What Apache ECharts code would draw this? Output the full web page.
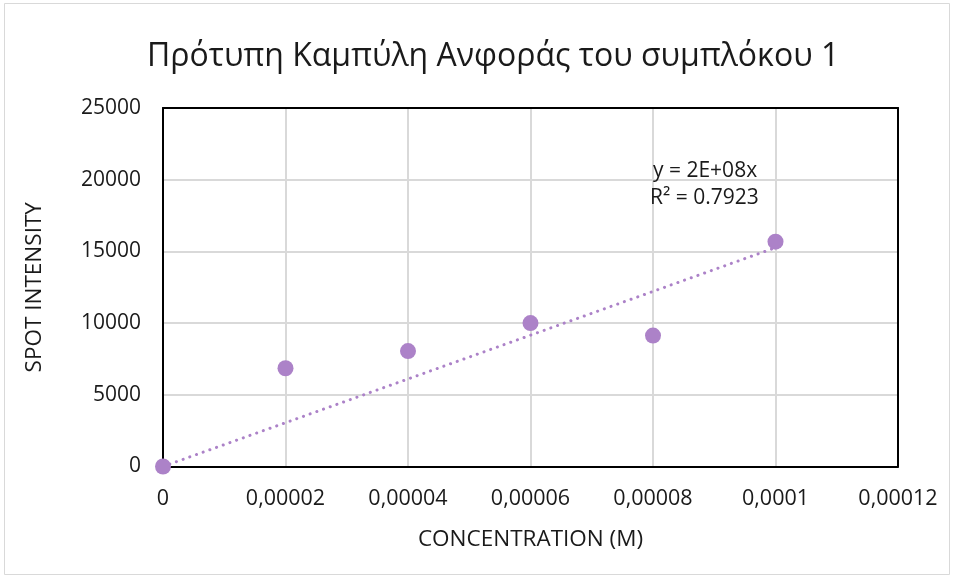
<!DOCTYPE html>
<html><head><meta charset="utf-8">
<script src="https://cdn.jsdelivr.net/npm/echarts@6/dist/echarts.min.js"></script>
<style>html,body{margin:0;padding:0;background:#fff}#c{width:954px;height:579px}</style>
</head><body><div id="c"></div>
<script>
const concentration = [0, 0.00002, 0.00004, 0.00006, 0.00008, 0.0001];
const intensity = [0, 6850, 8050, 10000, 9130, 15680];
const xTickLabels = ['0', '0,00002', '0,00004', '0,00006', '0,00008', '0,0001', '0,00012'];
const yTicks = [0, 5000, 10000, 15000, 20000, 25000];
const titleText = 'Πρότυπη Καμπύλη Ανφοράς του συμπλόκου 1';
const equationText = 'y = 2E+08x';
const r2Text = 'R² = 0.7923';

// Linear trendline forced through the origin (least squares)
let sxy = 0, sxx = 0;
concentration.forEach((x, i) => { sxy += x * intensity[i]; sxx += x * x; });
const slope = sxy / sxx;
const xEnd = concentration[concentration.length - 1];
const trend = [[0, 0], [xEnd, slope * xEnd]];

const color = '#AC82C8';
const font = 'Open Sans';
const txt = '#1a1a1a';
const frameAxisX = {type: 'value', min: 0, max: 0.00012, interval: 0.00002, position: 'top',
  axisLine: {show: true, onZero: false, lineStyle: {color: '#000', width: 2}}, axisTick: {show: false},
  axisLabel: {show: false}, splitLine: {show: false}};
const frameAxisY = {type: 'value', min: 0, max: 25000, interval: 5000, position: 'right',
  axisLine: {show: true, onZero: false, lineStyle: {color: '#000', width: 2}}, axisTick: {show: false},
  axisLabel: {show: false}, splitLine: {show: false}};

const chart = echarts.init(document.getElementById('c'), null, {renderer: 'canvas'});
chart.setOption({
  backgroundColor: '#fff',
  animation: false,
  title: {
    text: titleText, left: 142, top: 36,
    textStyle: {fontFamily: font, fontSize: 32, fontWeight: 'normal', color: txt}
  },
  grid: {left: 163, right: 56, top: 108, bottom: 112.5, show: false},
  xAxis: [{
    type: 'value', min: 0, max: 0.00012, interval: 0.00002,
    name: 'CONCENTRATION (M)', nameLocation: 'middle', nameGap: 62,
    nameTextStyle: {fontFamily: font, fontSize: 22.5, color: txt},
    axisLine: {show: true, onZero: false, lineStyle: {color: '#000', width: 2}},
    axisTick: {show: false},
    splitLine: {show: true, lineStyle: {color: '#d9d9d9', width: 2}},
    axisLabel: {
      fontFamily: font, fontSize: 21.5, color: txt, margin: 21,
      formatter: function (v) { return xTickLabels[Math.round(v / 0.00002)]; }
    }
  }, frameAxisX],
  yAxis: [{
    type: 'value', min: 0, max: 25000, interval: 5000,
    name: 'SPOT INTENSITY', nameLocation: 'middle', nameGap: 117, nameRotate: 90,
    nameTextStyle: {fontFamily: font, fontSize: 22.5, color: txt},
    axisLine: {show: true, onZero: false, lineStyle: {color: '#000', width: 2}},
    axisTick: {show: false},
    splitLine: {show: true, lineStyle: {color: '#d9d9d9', width: 2}},
    axisLabel: {
      fontFamily: font, fontSize: 21, color: txt, margin: 22,
      formatter: function (v) { return String(yTicks[Math.round(v / 5000)]); }
    }
  }, frameAxisY],
  series: [
    {
      type: 'line', data: trend, showSymbol: false, symbol: 'none',
      lineStyle: {color: color, width: 3, type: [0.1, 7], cap: 'round'},
      z: 2, silent: true
    },
    {
      type: 'scatter', data: concentration.map((x, i) => [x, intensity[i]]),
      symbol: 'circle', symbolSize: 16, itemStyle: {color: color, opacity: 1}, z: 3
    }
  ],
  graphic: [
    {type: 'rect', shape: {x: 4.5, y: 3.5, width: 945, height: 571}, style: {fill: 'none', stroke: '#d9d9d9', lineWidth: 1}, silent: true, z: -1},
    {type: 'text', z: 100, left: 653, top: 161, style: {text: equationText, font: '21px "Open Sans"', fill: txt}},
    {type: 'text', z: 100, left: 650, top: 188, style: {text: r2Text, font: '21px "Open Sans"', fill: txt}}
  ]
});
</script></body></html>
